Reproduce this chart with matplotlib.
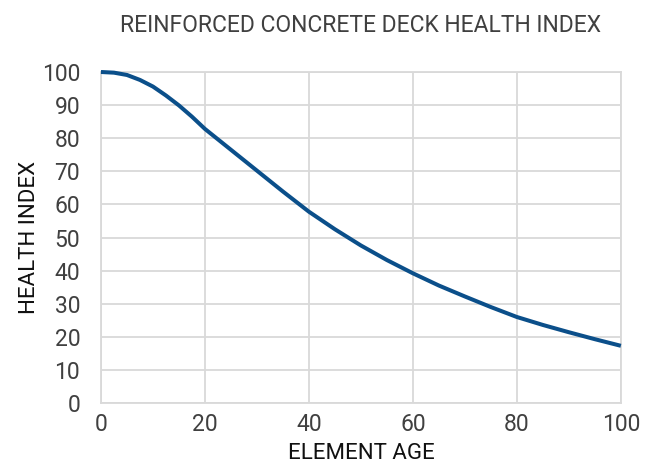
import matplotlib
matplotlib.use('Agg')
import matplotlib.pyplot as plt

# element age (years) and health index
age = [0, 2.5, 5, 7.5, 10, 12.5, 15, 17.5, 20, 25, 30, 35, 40, 45, 50, 55, 60,
       65, 70, 75, 80, 85, 90, 95, 100]
health = [100, 99.8, 99.1, 97.6, 95.6, 92.9, 89.9, 86.5, 82.8, 76.5, 70.2, 63.9,
          57.8, 52.5, 47.6, 43.2, 39.2, 35.5, 32.2, 29, 26, 23.6, 21.4, 19.3, 17.3]

plt.rcParams['font.family'] = ['Roboto', 'DejaVu Sans']

txt = '#404040'
grid = '#d9d9d9'

fig = plt.figure(figsize=(6.57, 4.66), dpi=100)
ax = fig.add_axes([0.1537, 0.135, 0.7913, 0.7105])

ax.plot(age, health, color='#0b4f8a', lw=2.9, solid_capstyle='butt',
        solid_joinstyle='round', zorder=3, clip_on=False)

ax.set_xlim(0, 100)
ax.set_ylim(0, 100)
ax.set_xticks(range(0, 101, 20))
ax.set_yticks(range(0, 101, 10))
ax.grid(True, color=grid, lw=1.3)
for s in ax.spines.values():
    s.set_color(grid)
    s.set_linewidth(1.3)
ax.tick_params(length=0, labelsize=16.5, colors=txt)
ax.tick_params(axis='y', pad=15)
ax.tick_params(axis='x', pad=7)

ax.set_title('REINFORCED CONCRETE DECK HEALTH INDEX', fontsize=16.5, color=txt, pad=29)
ax.set_xlabel('ELEMENT AGE', fontsize=16, color='#111111', labelpad=5)
ax.set_ylabel('HEALTH INDEX', fontsize=16, color='#111111', labelpad=1)

fig.savefig('out.png', dpi=100)
